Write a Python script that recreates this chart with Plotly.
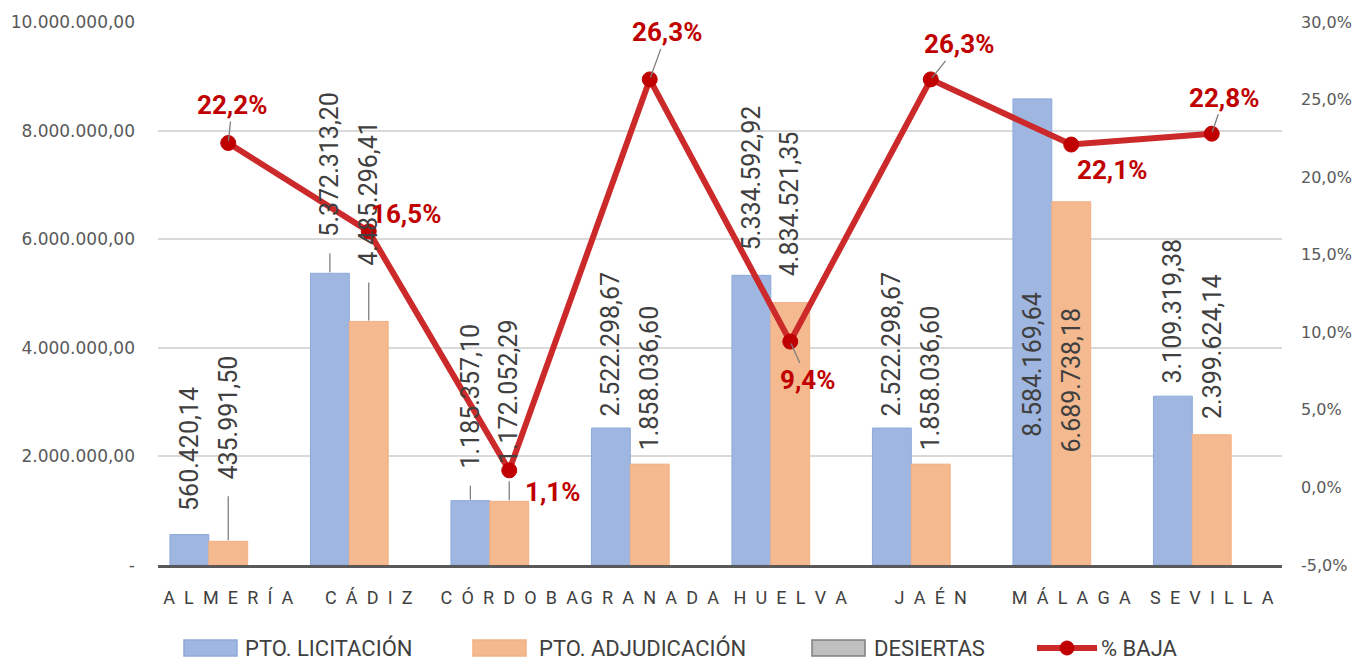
import plotly.graph_objects as go

# ---------------- data ----------------
provincias = ["ALMERÍA", "CÁDIZ", "CÓRDOBA", "GRANADA", "HUELVA", "JAÉN", "MÁLAGA", "SEVILLA"]
pto_licitacion = [560420.14, 5372313.20, 1185357.10, 2522298.67, 5334592.92, 2522298.67, 8584169.64, 3109319.38]
pto_adjudicacion = [435991.50, 4485296.41, 1172052.29, 1858036.60, 4834521.35, 1858036.60, 6689738.18, 2399624.14]
desiertas = [0, 0, 0, 0, 0, 0, 0, 0]
pct_baja = [22.2, 16.5, 1.1, 26.3, 9.4, 26.3, 22.1, 22.8]

y_tickvals = [0, 2000000, 4000000, 6000000, 8000000, 10000000]
y_ticktext = ["-", "2.000.000,00", "4.000.000,00", "6.000.000,00", "8.000.000,00", "10.000.000,00"]
y2_tickvals = [-5, 0, 5, 10, 15, 20, 25, 30]
y2_ticktext = ["-5,0%", "0,0%", "5,0%", "10,0%", "15,0%", "20,0%", "25,0%", "30,0%"]

# ---------------- label styling (pixel offsets) ----------------
lic_gap = [22, 35, 30, 10, 23, 10, -191, 11]
lic_leader = [False, True, True, False, False, False, False, False]
adj_gap = [60, 54, 35, 12, 24, 12, -104, 14]
adj_leader = [True, True, True, False, False, False, False, False]
pct_dx = [4, 37, 43, 17, 17, 28, 41, 12]
pct_dy = [-38, -17, 22, -47, 38, -35, 25, -36]
pct_leader = [True, True, False, True, True, True, False, True]

BLUE = "#9FB6E0"
BLUE_LINE = "#8EA9DB"
ORANGE = "#F5B98F"
ORANGE_LINE = "#F4B183"
GRAY = "#BFBFBF"
GRAY_LINE = "#7F7F7F"
RED_LINE = "#CC2A2A"
RED_MARK = "#C00000"
TXT = "#404040"
AX_TXT = "#595959"
LEADER = "#7F7F7F"
FONT = "Roboto"

BARGAP = 0.17
bar_w = (1 - BARGAP) / 3

# page body has an 8px margin: work in window pixels, convert to figure pixels
OFF = 8
W, H = 1370 - 2 * OFF, 662 - OFF
PLOT_L, PLOT_R, PLOT_T, PLOT_B = 158, 1282, 22, 565   # window pixels
L = PLOT_L - OFF
R = W - (PLOT_R - OFF)
T = PLOT_T - OFF
B = H - (PLOT_B - OFF)
PW, PH = PLOT_R - PLOT_L, PLOT_B - PLOT_T


def fmt_es(v):
    s = f"{v:,.2f}"
    return s.replace(",", "X").replace(".", ",").replace("X", ".")


def fmt_pct(v):
    return f"{v:.1f}".replace(".", ",") + "%"


fig = go.Figure()
fig.add_trace(go.Bar(name="PTO. LICITACIÓN", x=provincias, y=pto_licitacion,
                     marker=dict(color=BLUE, line=dict(color=BLUE_LINE, width=1)), showlegend=False))
fig.add_trace(go.Bar(name="PTO. ADJUDICACIÓN", x=provincias, y=pto_adjudicacion,
                     marker=dict(color=ORANGE, line=dict(color=ORANGE_LINE, width=1)), showlegend=False))
fig.add_trace(go.Bar(name="DESIERTAS", x=provincias, y=desiertas,
                     marker=dict(color=GRAY, line=dict(color=GRAY_LINE, width=0)), showlegend=False))
fig.add_trace(go.Scatter(name="% BAJA", x=provincias, y=pct_baja, yaxis="y2", mode="lines+markers",
                         line=dict(color=RED_LINE, width=6),
                         marker=dict(color=RED_MARK, size=15, line=dict(color=RED_MARK, width=1)),
                         showlegend=False))

annotations = []
shapes = []


def add_value_label(xpos, val, gap, leader):
    common = dict(x=xpos, y=val, xref="x", yref="y", text=fmt_es(val), textangle=-90,
                  font=dict(family=FONT, size=25, color=TXT), xanchor="center", showarrow=False)
    if gap < 0:
        annotations.append(dict(**common, yanchor="top", yshift=gap))
        return
    annotations.append(dict(**common, yanchor="bottom", yshift=gap))
    if leader:
        shapes.append(dict(type="line", xref="x", yref="y", x0=xpos, x1=xpos,
                           ysizemode="pixel", yanchor=val, y0=1, y1=gap - 15,
                           line=dict(color=LEADER, width=1.3)))


for i in range(len(provincias)):
    add_value_label(i - bar_w, pto_licitacion[i], lic_gap[i], lic_leader[i])
    add_value_label(i, pto_adjudicacion[i], adj_gap[i], adj_leader[i])

for i, v in enumerate(pct_baja):
    common = dict(x=i, y=v, xref="x", yref="y2", text=fmt_pct(v),
                  font=dict(family=FONT, size=26, color=RED_MARK, weight="bold"))
    if pct_leader[i]:
        annotations.append(dict(**common, showarrow=True, arrowhead=0, arrowwidth=1.3,
                                arrowcolor=LEADER, ax=pct_dx[i], ay=pct_dy[i], standoff=2))
    else:
        annotations.append(dict(**common, showarrow=False, xshift=pct_dx[i], yshift=-pct_dy[i]))

# ---------------- custom legend ----------------


def px_x(p):
    return (p - PLOT_L) / PW


def px_y(p):
    return (PLOT_B - p) / PH


LEG_Y = 648
items = [("box", 184, 237, 243, "PTO. LICITACIÓN", BLUE, BLUE_LINE),
         ("box", 473, 526, 537, "PTO. ADJUDICACIÓN", ORANGE, ORANGE_LINE),
         ("box", 812, 865, 872, "DESIERTAS", GRAY, GRAY_LINE),
         ("line", 1037, 1097, 1099, "% BAJA", RED_LINE, RED_MARK)]
for kind, x0, x1, tx, label, c, lc in items:
    if kind == "box":
        shapes.append(dict(type="rect", xref="paper", yref="paper",
                           x0=px_x(x0), x1=px_x(x1), y0=px_y(LEG_Y + 8), y1=px_y(LEG_Y - 8),
                           fillcolor=c, line=dict(color=lc, width=1.5)))
    else:
        shapes.append(dict(type="line", xref="paper", yref="paper",
                           x0=px_x(x0), x1=px_x(x1), y0=px_y(LEG_Y), y1=px_y(LEG_Y),
                           line=dict(color=c, width=6)))
        xm = (x0 + x1) / 2
        shapes.append(dict(type="circle", xref="paper", yref="paper",
                           x0=px_x(xm - 7), x1=px_x(xm + 7), y0=px_y(LEG_Y + 7), y1=px_y(LEG_Y - 7),
                           fillcolor=lc, line=dict(color=lc, width=1)))
    annotations.append(dict(x=px_x(tx), y=px_y(LEG_Y), xref="paper", yref="paper", text=label,
                            showarrow=False, xanchor="left", yanchor="middle",
                            font=dict(family=FONT, size=22, color=TXT)))

spaced = ["\u2002".join(list(p)) for p in provincias]

fig.update_layout(
    width=W, height=H, autosize=False,
    margin=dict(l=L, r=R, t=T, b=B, pad=0, autoexpand=False),
    paper_bgcolor="white", plot_bgcolor="white",
    barmode="group", bargap=BARGAP, bargroupgap=0,
    separators=",.",
    showlegend=False,
    xaxis=dict(type="category", tickvals=provincias, ticktext=spaced, tickangle=0,
               tickfont=dict(family=FONT, size=18, color=TXT), automargin=False,
               showline=True, linecolor="#595959", linewidth=3, ticks="",
               ticklabelstandoff=14, showgrid=False),
    yaxis=dict(range=[0, 10000000], tickvals=y_tickvals, ticktext=y_ticktext,
               tickfont=dict(family="DejaVu Sans", size=17, color=AX_TXT), automargin=False,
               showgrid=True, gridcolor="#D9D9D9", gridwidth=1.5, zeroline=False,
               ticks="", ticklabelstandoff=22),
    yaxis2=dict(range=[-5, 30], tickvals=y2_tickvals, ticktext=y2_ticktext, overlaying="y", side="right",
                tickfont=dict(family="DejaVu Sans", size=16, color=AX_TXT), automargin=False,
                showgrid=False, zeroline=False, ticks="", ticklabelstandoff=18),
    annotations=annotations,
    shapes=shapes,
)

fig.write_html("out.html")
